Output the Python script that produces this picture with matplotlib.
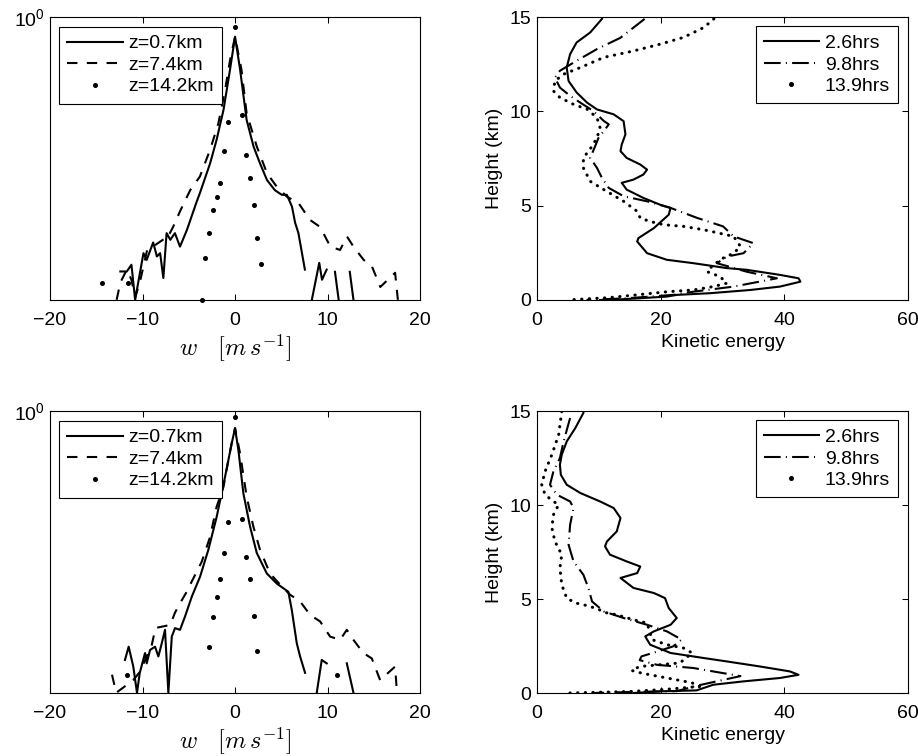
import numpy as np
import matplotlib
matplotlib.use("Agg")
import matplotlib.pyplot as plt
from matplotlib.lines import Line2D
from matplotlib.ticker import NullLocator, FixedLocator

plt.rcParams['font.family'] = ['Liberation Sans', 'DejaVu Sans']
plt.rcParams['mathtext.fontset'] = 'cm'
plt.rcParams['font.size'] = 14

nan = np.nan

# ---- PDF of w, upper row ----
w_top_07 = [-12.4, -11.7, -11.2, -10.8, -9.9, -9.55, -8.85, -8.45, -8.1, -7.75, -7.4, -7.0,
            -6.5, -5.95, -5.2, -4.15, -3.8, -2.7, -2.0, -1.25, -0.55, 0.0, 0.55, 1.25, 2.0,
            2.7, 3.45, 4.3, 5.05, 5.6, 6.15, 6.5, 6.85, 7.55, 8.0, 8.3, 9.1, 9.4, 9.9, 10.3,
            10.8, 11.2, 11.6, 12.4, 12.8]
p_top_07 = [3.9e-5, 3.9e-5, 5.1e-5, 1.26e-5, 8.1e-5, 6.2e-5, 1.24e-4, 7.1e-5, 8.1e-5, 3.0e-5,
            1.8e-4, 1.38e-4, 1.8e-4, 1.05e-4, 2.05e-4, 6.3e-4, 8.9e-4, 2.9e-3, 7.4e-3, 2.45e-2,
            0.121, 0.456, 0.121, 1.65e-2, 5.7e-3, 2.9e-3, 1.5e-3, 1.0e-3, 8.3e-4, 8.3e-4,
            5.2e-4, 2.7e-4, 1.8e-4, 4.2e-5, nan, 1.26e-5, 5.5e-5, 2.8e-5, 4.2e-5, nan,
            3.85e-5, 1.26e-5, nan, 3.85e-5, 1.26e-5]

w_top_74 = [-12.8, -12.4, -11.7, -11.2, -10.8, -10.3, -9.5, -8.6, -7.8, -7.4, -6.7, -5.95,
            -4.85, -3.8, -2.7, -1.8, -1.08, -0.54, 0.0, 0.7, 1.25, 2.35, 3.45, 4.5, 5.6, 6.85,
            8.1, 9.2, 10.3, 11.35, 12.1, 12.8, 13.9, 14.8, 15.7, 17.3, 17.6]
p_top_74 = [1.26e-5, 2.5e-5, 4.2e-5, 2.8e-5, 1.4e-5, 2.5e-5, 9.2e-5, 1.13e-4, 1.38e-4, 1.4e-4,
            2.3e-4, 4.3e-4, 1.0e-3, 1.72e-3, 5.0e-3, 1.44e-2, 5.45e-2, 0.18, 0.456, 0.121,
            2.15e-2, 5.7e-3, 1.97e-3, 1.15e-3, 7.7e-4, 6.0e-4, 3.05e-4, 2.3e-4, 1.05e-4,
            9.2e-5, 1.57e-4, 1.05e-4, 6.2e-5, 4.75e-5, 2.1e-5, 3.7e-5, 1.26e-5]

w_top_142 = [-14.4, -11.6, -3.6, -3.2, -2.8, -2.4, -2.0, -1.6, -1.2, -0.8, 0.0, 0.8, 1.2,
             1.6, 2.0, 2.4, 2.8]
p_top_142 = [2.5e-5, 2.5e-5, 1.26e-5, 6.6e-5, 1.8e-4, 4.6e-4, 7.7e-4, 1.35e-3, 4.8e-3,
             1.54e-2, 0.663, 2.0e-2, 4.1e-3, 1.6e-3, 5.6e-4, 1.48e-4, 5.3e-5]

# ---- PDF of w, lower row ----
w_bot_07 = [-11.9, -11.5, -11.0, -10.6, -10.3, -9.73, -9.55, -9.19, -8.65, -8.29, -7.92,
            -7.57, -7.21, -6.84, -6.49, -5.95, -5.41, -4.68, -3.78, -2.89, -1.98, -1.08,
            -0.36, 0.0, 0.36, 0.9, 1.62, 2.35, 3.43, 4.51, 5.76, 6.13, 6.67, 7.03, 7.57,
            8.0, 8.83, 9.37, 9.91, 10.4, 12.08, 12.8]
p_bot_07 = [4.7e-5, 8.0e-5, 3.6e-5, 1.26e-5, 2.8e-5, 6.2e-5, 4.1e-5, 7.0e-5, 8.0e-5, 5.4e-5,
            9.2e-5, 1.57e-4, 1.26e-5, 1.2e-4, 1.68e-4, 1.57e-4, 2.67e-4, 5.9e-4, 1.32e-3,
            3.85e-3, 1.46e-2, 7.2e-2, 0.275, 0.5, 0.21, 3.7e-2, 9.8e-3, 3.4e-3, 1.5e-3,
            1.0e-3, 7.2e-4, 3.5e-4, 9.2e-5, 5.4e-5, 2.8e-5, nan, 1.26e-5, 4.7e-5, 4.1e-5,
            nan, 4.1e-5, 1.26e-5]

w_bot_74 = [-13.3, -12.85, -11.0, -10.3, -9.0, -8.6, -7.0, -6.5, -6.0, -5.1, -4.7, -3.6,
            -2.7, -2.0, -1.25, -0.72, -0.36, 0.0, 0.54, 1.26, 1.98, 2.7, 3.78, 5.05, 5.95,
            7.03, 8.11, 9.19, 10.27, 11.35, 12.08, 12.8, 13.86, 14.78, 15.68, 17.3, 17.48]
p_bot_74 = [2.6e-5, 1.26e-5, 2.1e-5, 2.9e-5, 8.6e-5, 1.69e-4, 1.91e-4, 3.1e-4, 4.4e-4,
            7.8e-4, 1.07e-3, 2.4e-3, 6.5e-3, 2.15e-2, 4.8e-2, 0.141, 0.278, 0.507, 0.184,
            3.2e-2, 9.8e-3, 3.85e-3, 1.5e-3, 8.9e-4, 6.4e-4, 4.9e-4, 2.85e-4, 2.2e-4,
            1.2e-4, 1.05e-4, 1.57e-4, 1.05e-4, 6.2e-5, 5.0e-5, 2.1e-5, 3.6e-5, 1.42e-5]

w_bot_142 = [-11.7, -2.8, -2.4, -2.0, -1.6, -1.2, -0.8, 0.0, 0.8, 1.2, 1.6, 2.0, 2.4, 11.0]
p_bot_142 = [2.6e-5, 8.0e-5, 2.6e-4, 5.9e-4, 1.19e-3, 3.4e-3, 1.19e-2, 0.796, 1.31e-2,
             2.9e-3, 1.22e-3, 2.77e-4, 6.6e-5, 2.6e-5]

# ---- kinetic energy profiles, upper row ----
ke_top_26 = [10.5, 8.6, 6.4, 5.35, 4.8, 5.1, 6.4, 8.1, 9.7, 12.4, 14.0, 14.3, 13.7, 13.5,
             14.5, 16.7, 17.8, 17.2, 15.6, 13.7, 14.5, 17.2, 19.9, 21.6, 21.3, 18.9, 16.4,
             16.2, 17.8, 21.0, 25.3, 30.7, 33.9, 39.3, 42.3, 42.6, 39.3, 34.5, 28.0, 22.6,
             21.0, 14.5, 10.2]
z_top_26 = [14.9, 14.18, 13.65, 13.03, 12.32, 11.61, 11.0, 10.46, 10.1, 9.84, 9.48, 8.78,
            8.24, 7.89, 7.53, 7.18, 6.91, 6.65, 6.38, 6.21, 5.85, 5.41, 5.05, 4.88, 4.52,
            3.81, 3.28, 3.1, 2.48, 2.13, 1.95, 1.69, 1.6, 1.33, 1.15, 0.97, 0.71, 0.53,
            0.36, 0.27, 0.18, 0.05, 0.0]

ke_top_98 = [17.4, 13.5, 9.7, 6.4, 3.7, 2.9, 3.7, 5.35, 7.0, 9.1, 10.8, 11.6, 11.0, 9.95,
             9.4, 8.6, 9.7, 10.5, 11.6, 14.0, 17.8, 21.6, 25.9, 30.1, 31.8, 35.0, 33.4,
             30.7, 29.1, 33.9, 38.8, 31.8, 25.3, 22.0, 14.5, 8.0]
z_top_98 = [14.9, 13.9, 13.3, 12.68, 12.15, 11.79, 11.26, 10.82, 10.46, 10.02, 9.49, 9.31,
            9.04, 8.6, 8.15, 7.53, 7.0, 6.47, 5.94, 5.5, 5.23, 4.88, 4.35, 3.9, 3.37, 3.01,
            2.48, 2.3, 1.95, 1.5, 1.15, 0.71, 0.44, 0.27, 0.09, 0.0]

ke_top_139 = [28.6, 27.0, 23.7, 19.9, 15.6, 10.8, 7.0, 4.3, 2.9, 2.65, 3.7, 5.9, 8.1, 9.7,
              10.2, 9.7, 8.9, 7.5, 7.5, 8.6, 10.8, 14.0, 16.2, 16.7, 18.3, 20.5, 23.7,
              27.0, 31.8, 32.9, 31.8, 30.1, 28.5, 27.5, 29.6, 30.7, 28.5, 25.3, 21.2,
              16.1, 11.5, 4.8]
z_top_139 = [14.9, 14.45, 13.92, 13.56, 13.2, 12.86, 12.32, 11.97, 11.61, 11.08, 10.73,
             10.37, 10.11, 9.66, 9.13, 8.6, 8.15, 7.53, 7.0, 6.29, 5.85, 5.23, 4.7, 4.34,
             4.16, 3.99, 3.9, 3.72, 3.37, 2.84, 2.48, 2.22, 1.86, 1.5, 1.24, 0.89, 0.71,
             0.53, 0.44, 0.27, 0.12, 0.0]

# ---- kinetic energy profiles, lower row ----
ke_bot_26 = [7.5, 6.2, 4.8, 4.0, 3.7, 3.85, 4.8, 7.0, 10.2, 12.4, 13.5, 12.9, 11.3, 11.0,
             11.8, 14.5, 16.7, 16.2, 13.5, 15.6, 18.9, 20.7, 21.3, 22.6, 21.6, 18.9, 17.5,
             18.3, 21.6, 27.0, 30.7, 36.1, 40.9, 42.3, 39.3, 33.4, 28.5, 25.8, 19.9, 15.6]
z_bot_26 = [14.9, 14.1, 13.38, 12.68, 12.14, 11.61, 11.08, 10.64, 10.19, 9.84, 9.31, 8.6,
            8.06, 7.8, 7.36, 7.0, 6.73, 6.38, 6.12, 5.59, 5.32, 5.05, 4.52, 3.99, 3.63,
            3.28, 3.01, 2.57, 2.13, 1.86, 1.68, 1.41, 1.15, 0.97, 0.8, 0.62, 0.44, 0.14,
            0.09, 0.0]

ke_bot_98 = [5.35, 4.3, 3.7, 2.65, 2.1, 3.2, 5.35, 5.9, 5.35, 5.1, 5.9, 7.5, 8.3, 8.9,
             10.8, 14.0, 17.8, 21.0, 23.4, 22.0, 19.4, 16.9, 16.6, 19.4, 25.3, 32.9, 26.0,
             22.6, 14.5, 9.1]
z_bot_98 = [14.63, 13.38, 12.5, 11.79, 11.08, 10.55, 10.19, 9.84, 8.95, 7.89, 7.0, 6.29,
            5.59, 4.87, 4.34, 3.99, 3.63, 3.28, 2.84, 2.48, 2.2, 1.95, 1.75, 1.5, 1.33,
            0.9, 0.4, 0.1, 0.05, 0.0]

ke_bot_139 = [4.0, 3.5, 2.4, 1.3, 0.76, 1.3, 2.65, 3.5, 2.65, 2.4, 2.9, 4.0, 3.7, 4.0, 4.8,
              6.2, 7.5, 9.4, 11.3, 12.9, 15.6, 17.8, 18.6, 21.0, 23.7, 25.1, 23.1, 16.6,
              15.3, 17.0, 21.0, 25.0, 26.3, 21.0, 15.0, 5.0]
z_bot_139 = [14.98, 13.74, 12.68, 11.79, 11.08, 10.55, 10.19, 10.02, 9.48, 8.78, 8.06,
             7.36, 6.65, 5.76, 5.05, 4.79, 4.7, 4.52, 4.26, 4.16, 3.9, 3.72, 2.84, 2.57,
             2.39, 2.13, 1.6, 1.41, 1.2, 1.05, 0.8, 0.55, 0.35, 0.2, 0.08, 0.0]

w_labels = ['z=0.7km', 'z=7.4km', 'z=14.2km']
t_labels = ['2.6hrs', '9.8hrs', '13.9hrs']

LW = 1.5
DASH = (0, (5.0, 4.5))
DASHDOT = (0, (8.0, 2.5, 0.5, 2.5))
DOTS = (0, (0.1, 2.4))
LEG = dict(borderaxespad=0, handlelength=2.85, handletextpad=0.3, labelspacing=0.2,
           borderpad=0.42, fancybox=False, framealpha=1, edgecolor='k', fontsize=14)


def style_axes(ax):
    ax.tick_params(direction='in', top=True, right=True, length=4, width=0.75,
                   labelsize=14)
    ax.tick_params(axis='x', pad=8.5)
    ax.tick_params(axis='y', pad=4)
    ax.tick_params(which='minor', length=0)
    for s in ax.spines.values():
        s.set_linewidth(0.8)


def pdf_panel(ax, w1, p1, w2, p2, w3, p3):
    ax.plot(w1, p1, color='k', lw=LW, label=w_labels[0])
    ax.plot(w2, p2, color='k', lw=LW, linestyle=DASH, label=w_labels[1])
    ax.plot(w3, p3, color='k', ls='none', marker='o', ms=2.6, label=w_labels[2],
            clip_on=False)
    ax.set_yscale('log')
    ax.set_xlim(-20, 20)
    ax.set_ylim(1.25e-5, 1)
    ax.set_xticks([-20, -10, 0, 10, 20])
    ax.yaxis.set_major_locator(FixedLocator([1]))
    ax.yaxis.set_minor_locator(NullLocator())
    ax.set_xlabel(r'$w\quad[m\,s^{-1}]$', fontsize=17.5, labelpad=3)
    style_axes(ax)
    leg = ax.legend(loc='upper left', bbox_to_anchor=(0.025, 0.966), **LEG)
    leg.get_frame().set_linewidth(0.8)


def ke_panel(ax, k1, z1, k2, z2, k3, z3):
    ax.plot(k1, z1, color='k', lw=LW)
    ax.plot(k2, z2, color='k', lw=LW, linestyle=DASHDOT)
    ax.plot(k3, z3, color='k', lw=2.2, linestyle=DOTS, dash_capstyle='round')
    ax.set_xlim(0, 60)
    ax.set_ylim(0, 15)
    ax.set_xticks([0, 20, 40, 60])
    ax.set_yticks([0, 5, 10, 15])
    ax.set_xlabel('Kinetic energy', fontsize=14, labelpad=4)
    ax.set_ylabel('Height (km)', fontsize=14, labelpad=5)
    style_axes(ax)
    handles = [Line2D([], [], color='k', lw=LW),
               Line2D([], [], color='k', lw=LW, linestyle=DASHDOT),
               Line2D([], [], color='k', ls='none', marker='o', ms=2.6)]
    leg = ax.legend(handles, t_labels, loc='upper right', bbox_to_anchor=(0.974, 0.967),
                    **LEG)
    leg.get_frame().set_linewidth(0.8)


fig = plt.figure(figsize=(9.18, 7.56), dpi=100)
ax_tl = fig.add_axes([0.0545, 0.6032, 0.4031, 0.3743])
ax_tr = fig.add_axes([0.585, 0.6032, 0.4041, 0.3743])
ax_bl = fig.add_axes([0.0545, 0.0833, 0.4031, 0.373])
ax_br = fig.add_axes([0.585, 0.0833, 0.4041, 0.373])

pdf_panel(ax_tl, w_top_07, p_top_07, w_top_74, p_top_74, w_top_142, p_top_142)
pdf_panel(ax_bl, w_bot_07, p_bot_07, w_bot_74, p_bot_74, w_bot_142, p_bot_142)
ke_panel(ax_tr, ke_top_26, z_top_26, ke_top_98, z_top_98, ke_top_139, z_top_139)
ke_panel(ax_br, ke_bot_26, z_bot_26, ke_bot_98, z_bot_98, ke_bot_139, z_bot_139)

fig.savefig('out.png', dpi=100)
